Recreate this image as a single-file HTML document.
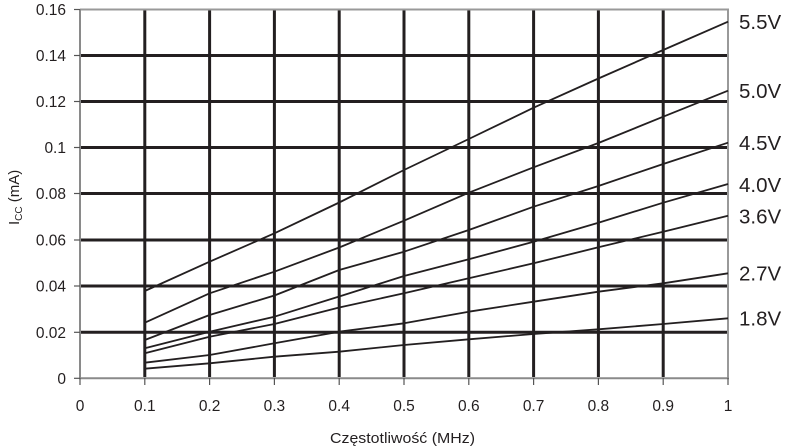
<!DOCTYPE html>
<html><head><meta charset="utf-8"><style>
html,body{margin:0;padding:0;background:#fff;}
svg{display:block;}
text{font-family:"Liberation Sans",Arial,sans-serif;fill:#231f20;}
</style></head><body>
<svg width="785" height="446" viewBox="0 0 785 446" xmlns="http://www.w3.org/2000/svg">
<!-- gridlines horizontal -->
<g stroke="#231f20" stroke-width="3">
<line x1="81" y1="55.5" x2="727" y2="55.5"/>
<line x1="81" y1="101.5" x2="727" y2="101.5"/>
<line x1="81" y1="147.5" x2="727" y2="147.5"/>
<line x1="81" y1="193.5" x2="727" y2="193.5"/>
<line x1="81" y1="240" x2="727" y2="240"/>
<line x1="81" y1="286" x2="727" y2="286"/>
<line x1="81" y1="332.3" x2="727" y2="332.3"/>
<!-- vertical -->
<line x1="144.8" y1="10" x2="144.8" y2="377"/>
<line x1="209.6" y1="10" x2="209.6" y2="377"/>
<line x1="274.4" y1="10" x2="274.4" y2="377"/>
<line x1="339.2" y1="10" x2="339.2" y2="377"/>
<line x1="404" y1="10" x2="404" y2="377"/>
<line x1="468.8" y1="10" x2="468.8" y2="377"/>
<line x1="533.6" y1="10" x2="533.6" y2="377"/>
<line x1="598.4" y1="10" x2="598.4" y2="377"/>
<line x1="663.2" y1="10" x2="663.2" y2="377"/>
</g>
<!-- border -->
<g stroke="#999" stroke-width="2" fill="none">
<line x1="80" y1="9.5" x2="729" y2="9.5"/>
<line x1="728" y1="9" x2="728" y2="378"/>
</g>
<g stroke="#8a8a8a" stroke-width="2" fill="none">
<line x1="80" y1="9" x2="80" y2="379"/>
<line x1="79" y1="378.3" x2="729" y2="378.3"/>
</g>
<!-- ticks -->
<g stroke="#555" stroke-width="1.2">
<line x1="74" y1="9.5" x2="80" y2="9.5"/>
<line x1="74" y1="55.5" x2="80" y2="55.5"/>
<line x1="74" y1="101.5" x2="80" y2="101.5"/>
<line x1="74" y1="147.5" x2="80" y2="147.5"/>
<line x1="74" y1="193.5" x2="80" y2="193.5"/>
<line x1="74" y1="240" x2="80" y2="240"/>
<line x1="74" y1="286" x2="80" y2="286"/>
<line x1="74" y1="332.3" x2="80" y2="332.3"/>
<line x1="74" y1="378.3" x2="80" y2="378.3"/>
<line x1="80" y1="378" x2="80" y2="385"/>
<line x1="144.8" y1="378" x2="144.8" y2="385"/>
<line x1="209.6" y1="378" x2="209.6" y2="385"/>
<line x1="274.4" y1="378" x2="274.4" y2="385"/>
<line x1="339.2" y1="378" x2="339.2" y2="385"/>
<line x1="404" y1="378" x2="404" y2="385"/>
<line x1="468.8" y1="378" x2="468.8" y2="385"/>
<line x1="533.6" y1="378" x2="533.6" y2="385"/>
<line x1="598.4" y1="378" x2="598.4" y2="385"/>
<line x1="663.2" y1="378" x2="663.2" y2="385"/>
<line x1="728" y1="378" x2="728" y2="385"/>
</g>
<!-- curves -->
<g stroke="#231f20" stroke-width="1.8" fill="none" stroke-linejoin="round">
<polyline points="144.8,291 209.6,261.7 274.4,233.3 339.2,202.5 404,170 468.8,139 533.6,107.7 598.4,78.5 663.2,50 728,21.7"/>
<polyline points="144.8,322.7 209.6,293.3 274.4,271.7 339.2,247.5 404,220.7 468.8,192.7 533.6,167.3 598.4,143 663.2,116.7 728,90.7"/>
<polyline points="144.8,340 209.6,315 274.4,295.5 339.2,270 404,251.7 468.8,230 533.6,206.7 598.4,186 663.2,164 728,142.7"/>
<polyline points="144.8,348.3 209.6,331.7 274.4,316.7 339.2,296.5 404,276 468.8,259.3 533.6,241.7 598.4,222.7 663.2,202.7 728,184"/>
<polyline points="144.8,353.3 209.6,336.7 274.4,324 339.2,307.5 404,293.3 468.8,278.3 533.6,263.3 598.4,247.3 663.2,231.7 728,215.7"/>
<polyline points="144.8,362.7 209.6,355 274.4,343.3 339.2,331.7 404,323.3 468.8,311.7 533.6,301.7 598.4,291.7 663.2,283.3 728,273.3"/>
<polyline points="144.8,368.7 209.6,363.3 274.4,356.7 339.2,351.7 404,345 468.8,339.3 533.6,334 598.4,329.3 663.2,324 728,318.3"/>
</g>
<!-- y tick labels -->
<g font-size="15.5" text-anchor="end">
<text x="66" y="15">0.16</text>
<text x="66" y="61">0.14</text>
<text x="66" y="107">0.12</text>
<text x="66" y="153">0.1</text>
<text x="66" y="199">0.08</text>
<text x="66" y="245.5">0.06</text>
<text x="66" y="291.5">0.04</text>
<text x="66" y="338">0.02</text>
<text x="66" y="384">0</text>
</g>
<!-- x tick labels -->
<g font-size="15.5" text-anchor="middle">
<text x="80" y="411">0</text>
<text x="144.8" y="411">0.1</text>
<text x="209.6" y="411">0.2</text>
<text x="274.4" y="411">0.3</text>
<text x="339.2" y="411">0.4</text>
<text x="404" y="411">0.5</text>
<text x="468.8" y="411">0.6</text>
<text x="533.6" y="411">0.7</text>
<text x="598.4" y="411">0.8</text>
<text x="663.2" y="411">0.9</text>
<text x="728" y="411">1</text>
</g>
<text x="330" y="443" font-size="15" textLength="145" lengthAdjust="spacingAndGlyphs">Częstotliwość (MHz)</text>
<text transform="translate(19,225) rotate(-90)" font-size="15">I<tspan font-size="10" dy="3">CC</tspan><tspan dy="-3"> (mA)</tspan></text>
<!-- series labels -->
<g font-size="20.5">
<text x="739" y="29">5.5V</text>
<text x="739" y="98">5.0V</text>
<text x="739" y="150">4.5V</text>
<text x="739" y="192">4.0V</text>
<text x="739" y="223.5">3.6V</text>
<text x="739" y="280.5">2.7V</text>
<text x="739" y="325.5">1.8V</text>
</g>
</svg>
</body></html>
